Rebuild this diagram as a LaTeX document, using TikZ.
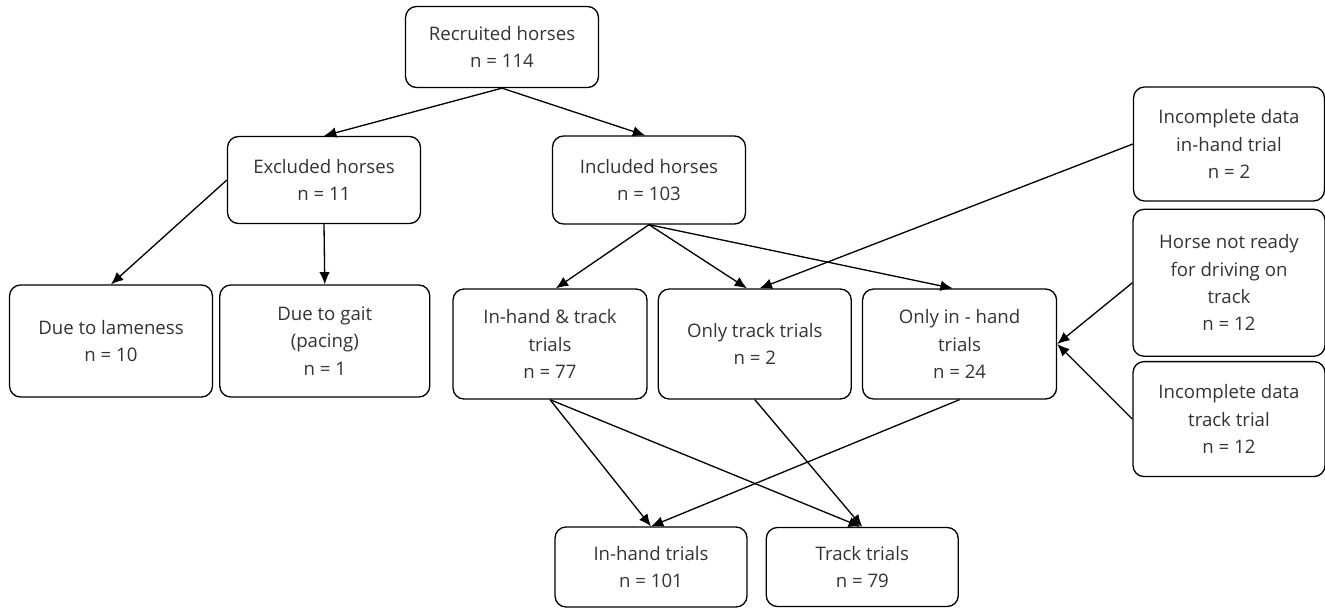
\documentclass[tikz,border=0pt]{standalone}
\usepackage{fontspec}
\setmainfont{Open Sans}
\usepackage{tikz}
\usetikzlibrary{arrows.meta,positioning}

\begin{document}
\begin{tikzpicture}[->,>={Latex[length=7pt,width=6pt]},x=0.02cm,y=-0.02cm,line width=0.75pt,
  box/.style={draw,rounded corners=0.22cm,align=center,inner sep=0pt,
    minimum width=3.86cm,text=black!80,font=\fontsize{10.6}{15.6}\selectfont}]
    \useasboundingbox (0,0) rectangle (1325,608);
    \node[box,minimum height=1.62cm] (rec) at (502,47) {Recruited horses\\n = 114};
    \node[box,minimum height=1.74cm] (exc) at (324,180) {Excluded horses\\n = 11};
    \node[box,minimum height=1.76cm] (inc) at (649,180) {Included horses\\n = 103};
    \node[box,minimum width=4.06cm,minimum height=2.24cm] (lame) at (111,341) {Due to lameness\\n = 10};
    \node[box,minimum width=4.2cm,minimum height=2.24cm] (gait) [right = 0.12cm of lame] {Due to gait\\(pacing)\\n = 1};
    \node[box,minimum width=3.88cm,minimum height=2.2cm] (both) at (550,344) {In-hand \& track\\trials\\n = 77};
    \node[box,minimum height=2.2cm] (onlytr) [right = 0.2cm of both] {Only track trials\\n = 2};
    \node[box,minimum width=3.88cm,minimum height=2.2cm] (onlyih) [right = 0.2cm of onlytr] {Only in - hand\\trials\\n = 24};
    \node[box,minimum width=3.82cm,minimum height=2.28cm] (ihmiss) at (1229,144) {Incomplete data\\in-hand trial\\n = 2};
    \node[box,minimum width=3.84cm,minimum height=2.94cm] (notready) [below = 0.14cm of ihmiss] {Horse not ready\\for driving on\\track\\n = 12};
    \node[box,minimum width=3.84cm,minimum height=2.3cm] (trmiss) [below = 0.08cm of notready] {Incomplete data\\track trial\\n = 12};
    \node[box,minimum width=3.84cm,minimum height=1.6cm] (ihtr) at (651,567) {In-hand trials\\n = 101};
    \node[box,minimum width=3.84cm,minimum height=1.58cm] (tr) [right = 0.36cm of ihtr] {Track trials\\n = 79};
    \path (rec.south) edge (exc.north)
    (rec.south) edge (inc.95)
    (exc.west) edge (lame.north)
    (exc.south) edge (gait.north)
    (inc.south) edge (both.84)
    (inc.south) edge (onlytr.98)
    (inc.south) edge (onlyih.97)
    (ihmiss.west) edge (onlytr.85)
    (notready.west) edge (onlyih.east)
    (trmiss.west) edge (onlyih.east)
    (both.south) edge (ihtr.north)
    (both.south) edge (tr.92)
    (onlytr.south) edge (tr.north)
    (onlyih.south) edge (ihtr.north);
\end{tikzpicture}
\end{document}
